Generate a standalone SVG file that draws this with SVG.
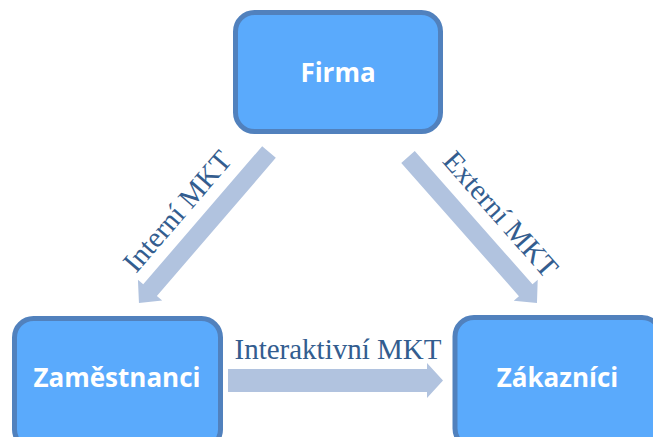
<svg xmlns="http://www.w3.org/2000/svg" width="653" height="437" viewBox="0 0 653 437">
<style>
.box{fill:#5AAAFC;stroke:#5181BD;stroke-width:5}
.lbl{font-family:"Open Sans","Liberation Sans",sans-serif;font-weight:bold;font-size:26px;fill:#FFFFFF;text-anchor:middle}
.arr{fill:#B1C3DF}
.at{font-family:"Liberation Serif","Times New Roman",serif;font-size:29px;fill:#335D8F;text-anchor:middle}
</style>
<rect width="653" height="437" fill="#FFFFFF"/>
<g id="firma">
<rect class="box" x="235.5" y="12.5" width="205" height="119" rx="19"/>
<text class="lbl" x="338" y="82">Firma</text>
</g>
<g id="zamestnanci">
<rect class="box" x="14.5" y="318.5" width="206" height="130" rx="19"/>
<text class="lbl" x="117" y="387">Zaměstnanci</text>
</g>
<g id="zakaznici">
<rect class="box" x="455" y="317.5" width="206" height="130" rx="19"/>
<text class="lbl" x="557.5" y="387">Zákazníci</text>
</g>
<g id="connectors">
<polygon class="arr" transform="translate(269,152) rotate(130.73)" points="0,-9 182.3,-9 182.3,-16 199.3,0 182.3,16 182.3,9 0,9"/>
<text class="at" transform="translate(177,211) rotate(-49.27)" x="0" y="10">Interní MKT</text>
<polygon class="arr" transform="translate(408,157) rotate(48.54)" points="0,-9 177.8,-9 177.8,-16 194.8,0 177.8,16 177.8,9 0,9"/>
<text class="at" transform="translate(501,214) rotate(48.54)" x="0" y="10">Externí MKT</text>
<polygon class="arr" points="228,369 427,369 427,363 443,380.5 427,398 427,392 228,392"/>
<text class="at" x="338" y="359">Interaktivní MKT</text>
</g>
</svg>
